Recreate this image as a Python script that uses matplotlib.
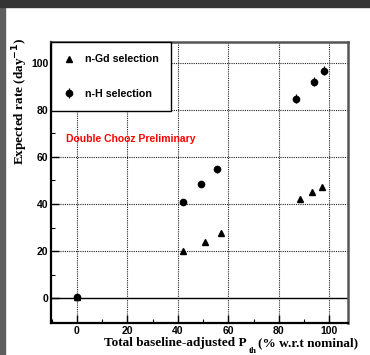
import matplotlib
matplotlib.use('Agg')
import matplotlib.pyplot as plt
from matplotlib.patches import Rectangle
from matplotlib.ticker import MultipleLocator
import numpy as np

# data
gd_x = [0, 42.2, 50.8, 57.1, 88.2, 93.2, 97.3]
gd_rate = [0.5, 20.0, 23.7, 27.6, 42.3, 45.0, 47.3]

h_x = [0, 42.2, 49.0, 55.7, 86.7, 93.9, 98.0]
h_rate = [0.5, 41.0, 48.5, 54.8, 84.8, 92.0, 96.7]
h_err = [0.8, 1.0, 1.1, 1.5, 2.0, 2.0, 2.0]

plt.rcParams['font.family'] = ['Liberation Sans', 'DejaVu Sans']

fig = plt.figure(figsize=(3.7, 3.55), dpi=100)
# dark frame strips of the screenshot
fig.patches.append(Rectangle((0, 0), 1, 1, transform=fig.transFigure, color='white', zorder=-3))
fig.patches.append(Rectangle((0, 0), 5/370, 1, transform=fig.transFigure, color='#5e5e5e', zorder=-2))
fig.patches.append(Rectangle((0, 1 - 7/355), 1, 7/355, transform=fig.transFigure, color='#343434', zorder=-1))

ax = fig.add_axes([51/370, 1 - 323/355, 297/370, 281/355])
ax.set_xlim(-10.2, 107.4)
ax.set_ylim(-10.5, 108.8)

# grid (dotted) and solid zero line
for gx in [0, 20, 40, 60, 80, 100]:
    ax.axvline(gx, color='#222222', lw=0.8, ls=(0, (1, 1)), zorder=1)
for gy in [20, 40, 60, 80, 100]:
    ax.axhline(gy, color='#222222', lw=0.8, ls=(0, (1, 1)), zorder=1)
ax.axhline(0, color='black', lw=1.0, zorder=2)

ax.plot(gd_x, gd_rate, ls='none', marker='^', ms=4.2, color='black', label='n-Gd selection', zorder=4)
ax.errorbar(h_x, h_rate, yerr=h_err, fmt='o', ms=4.5, color='black', elinewidth=0.9, capsize=0,
            label='n-H selection', zorder=4)

ax.xaxis.set_major_locator(MultipleLocator(20))
ax.xaxis.set_minor_locator(MultipleLocator(10))
ax.yaxis.set_major_locator(MultipleLocator(20))
ax.yaxis.set_minor_locator(MultipleLocator(10))
ax.tick_params(which='major', direction='in', length=6, width=1.0, labelsize=7.5, pad=2)
ax.tick_params(which='minor', direction='in', length=3, width=0.8)
for lab in ax.get_xticklabels() + ax.get_yticklabels():
    lab.set_fontweight('bold')

for side in ['left', 'bottom']:
    ax.spines[side].set_linewidth(1.6)
for side in ['right', 'top']:
    ax.spines[side].set_linewidth(1.8)
    ax.spines[side].set_color('#555555')

leg = ax.legend(loc='upper left', bbox_to_anchor=(0, 1), borderaxespad=0, fancybox=False,
                edgecolor='black', framealpha=1, prop={'size': 7.7, 'weight': 'bold'},
                labelspacing=2.3, handlelength=1.0, handletextpad=1.0, borderpad=1.15,
                numpoints=1)
leg.get_frame().set_linewidth(1.0)

ax.text(66/370, 1 - 139/355, 'Double Chooz Preliminary', transform=fig.transFigure,
        color='red', fontsize=7.5, fontweight='bold', va='center', ha='left')

serif = ['Liberation Serif', 'DejaVu Serif']
fig.text(20/370, 1 - 101/355, r'Expected rate (day$^{\mathbf{-1}}$)', rotation=90, family=serif,
         fontweight='bold', fontsize=9.5, ha='center', va='center')
fig.text(247/370, 1 - 343/355, 'Total baseline-adjusted P', family=serif, fontweight='bold',
         fontsize=9.5, ha='right', va='center')
fig.text(253/370, 1 - 351/355, 'th', family=serif, fontweight='bold', fontsize=6.5,
         ha='center', va='center')
fig.text(258/370, 1 - 343/355, '(% w.r.t nominal)', family=serif, fontweight='bold',
         fontsize=9.5, ha='left', va='center')

fig.savefig('out.png', dpi=100)
